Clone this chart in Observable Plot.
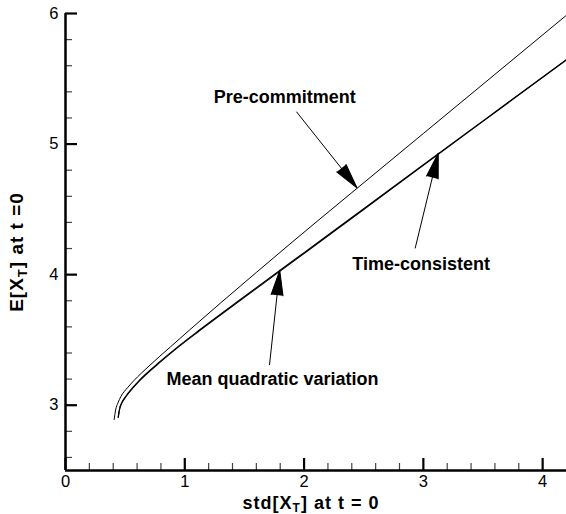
<!DOCTYPE html>
<html><head><meta charset="utf-8">
<script src="https://cdn.jsdelivr.net/npm/d3@7"></script>
<script src="https://cdn.jsdelivr.net/npm/@observablehq/plot@0.6"></script>
<style>body{margin:0;background:#fff}#chart svg{display:block}</style>
</head><body><div id="chart"></div>
<script>
// ---- data ----
const preX = [0.408, 0.42, 0.44, 0.464, 0.52, 0.575, 0.70, 0.88, 1.035, 1.30, 1.60, 1.90, 2.40, 3.00, 3.60, 4.20];
const preY = [2.891, 2.963, 3.018, 3.066, 3.134, 3.190, 3.300, 3.447, 3.572, 3.783, 4.017, 4.249, 4.628, 5.081, 5.534, 5.987];

const tcX = [0.441, 0.453, 0.473, 0.506, 0.56, 0.617, 0.70, 0.771, 0.938, 1.12, 1.50, 2.00, 2.50, 3.00, 3.50, 4.20];
const tcY = [2.907, 2.974, 3.022, 3.069, 3.131, 3.189, 3.261, 3.318, 3.445, 3.574, 3.833, 4.169, 4.505, 4.842, 5.178, 5.648];

const mqvX = [0.443, 0.455, 0.475, 0.508, 0.562, 0.62, 0.703, 0.775, 0.94, 1.12, 1.50, 2.00, 2.50, 3.00, 3.50, 4.20];
const mqvY = [2.909, 2.972, 3.020, 3.067, 3.128, 3.186, 3.258, 3.315, 3.441, 3.568, 3.826, 4.162, 4.499, 4.837, 5.174, 5.645];

const labelText = ["Pre-commitment", "Time-consistent", "Mean quadratic variation"];
const labelX = [1.838, 2.981, 1.735];
const labelY = [5.356, 4.077, 3.198];
const arrowFromX = [1.936, 2.931, 1.710];
const arrowFromY = [5.248, 4.201, 3.307];
const arrowToX = [2.443, 3.125, 1.796];
const arrowToY = [4.665, 4.930, 4.033];

const xMajor = [0, 1, 2, 3, 4];
const xMinor = [0.2,0.4,0.6,0.8,1.2,1.4,1.6,1.8,2.2,2.4,2.6,2.8,3.2,3.4,3.6,3.8];
const yMajor = [3, 4, 5, 6];
const yMinor = [2.6,2.8,3.2,3.4,3.6,3.8,4.2,4.4,4.6,4.8,5.2,5.4,5.6,5.8];
const xTitle = ["std[X", "T", "] at t = 0"];
const yTitle = ["E[X", "T", "] at t =0"];

// ---- build tables ----
const toRows = (xs, ys, name) => xs.map((x, i) => ({x, y: ys[i], name}));
const pre = toRows(preX, preY, "Pre-commitment");
const tc = toRows(tcX, tcY, "Time-consistent");
const mqv = toRows(mqvX, mqvY, "Mean quadratic variation");
const labels = labelText.map((t, i) => ({t, x: labelX[i], y: labelY[i]}));
const arrows0 = labelText.map((t, i) => ({x1: arrowFromX[i], y1: arrowFromY[i], x2: arrowToX[i], y2: arrowToY[i]}));

const FONT = "'Liberation Sans', Arial, Helvetica, sans-serif";
const base = {
  width: 566, height: 514,
  marginLeft: 65, marginRight: 0, marginTop: 13, marginBottom: 44,
  x: {domain: [0, 4.2]},
  y: {domain: [2.5, 6]},
  style: {fontFamily: FONT, fontSize: "16px", color: "black", background: "white", overflow: "visible"}
};

// scales for arrowhead orientation
const probe = Plot.plot({...base, marks: [Plot.ruleX([0])]});
const sx = probe.scale("x"), sy = probe.scale("y");
const arrows = arrows0.map(a => {
  const dx = sx.apply(a.x2) - sx.apply(a.x1);
  const dy = sy.apply(a.y2) - sy.apply(a.y1);
  return {...a, angle: Math.atan2(dx, -dy) * 180 / Math.PI};
});

const chart = Plot.plot({
  ...base,
  marks: [
    Plot.axisX({ticks: xMinor, tickSize: -7, tickFormat: () => "", label: null, stroke: "#444", strokeWidth: 1.2}),
    Plot.axisY({ticks: yMinor, tickSize: -7, tickFormat: () => "", label: null, stroke: "#444", strokeWidth: 1.2}),
    Plot.axisX({ticks: xMajor, tickSize: -12, tickPadding: 17, label: null, strokeWidth: 2.2, fontSize: 16.5, tickFormat: d => String(d)}),
    Plot.axisY({ticks: yMajor, tickSize: -12, tickPadding: 19, label: null, strokeWidth: 2.2, fontSize: 16.5, tickFormat: d => String(d)}),
    Plot.ruleX([0], {strokeWidth: 2.5}),
    Plot.ruleY([2.5], {strokeWidth: 2.5}),
    Plot.line(pre, {x: "x", y: "y", curve: "monotone-x", stroke: "black", strokeWidth: 1}),
    Plot.line(tc, {x: "x", y: "y", curve: "monotone-x", stroke: "black", strokeWidth: 1.1}),
    Plot.line(mqv, {x: "x", y: "y", curve: "monotone-x", stroke: "black", strokeWidth: 1.1}),
    Plot.link(arrows, {x1: "x1", y1: "y1", x2: "x2", y2: "y2", stroke: "black", strokeWidth: 1}),
    Plot.vector(arrows, {x: "x2", y: "y2", rotate: "angle", length: 25, r: 6, shape: "spike", anchor: "end", fill: "black", stroke: "black", strokeWidth: 1}),
    Plot.text(labels, {x: "x", y: "y", text: "t", fontWeight: "bold", fontSize: 18, fill: "black"})
  ]
});
document.getElementById("chart").appendChild(chart);

// axis titles with subscript
const svg = d3.select(chart);
const xt = svg.append("text").attr("x", 311).attr("y", 509).attr("text-anchor", "middle")
  .attr("font-weight", "bold").attr("font-size", 18).attr("letter-spacing", 1).attr("font-family", FONT).attr("fill", "black");
xt.append("tspan").text(xTitle[0]);
xt.append("tspan").attr("font-size", 12).attr("dy", 3).text(xTitle[1]);
xt.append("tspan").attr("dy", -3).text(xTitle[2]);
const yt = svg.append("text").attr("transform", "translate(23,252) rotate(-90)").attr("text-anchor", "middle")
  .attr("font-weight", "bold").attr("font-size", 19).attr("letter-spacing", 1).attr("font-family", FONT).attr("fill", "black");
yt.append("tspan").text(yTitle[0]);
yt.append("tspan").attr("font-size", 13).attr("dy", 4).text(yTitle[1]);
yt.append("tspan").attr("dy", -4).text(yTitle[2]);
</script>
</body></html>
